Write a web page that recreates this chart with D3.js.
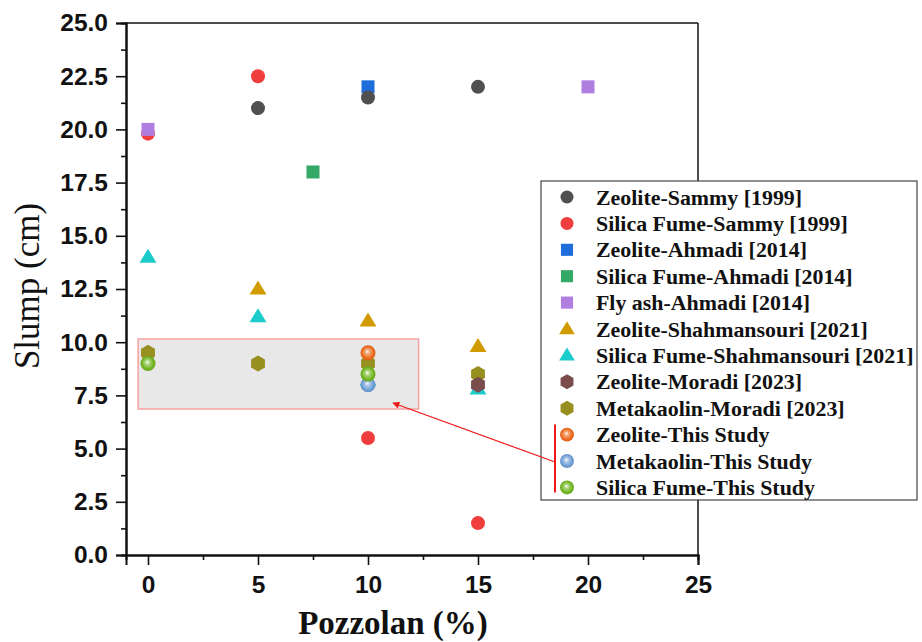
<!DOCTYPE html>
<html>
<head>
<meta charset="utf-8">
<script src="https://cdn.jsdelivr.net/npm/d3@7"></script>
<style>
  html, body { margin: 0; padding: 0; background: #fff; }
  svg { display: block; }
</style>
</head>
<body>
<svg id="chart" width="922" height="642"></svg>
<script>
// ---------- data ----------
const seriesNames = [
  "Zeolite-Sammy [1999]",
  "Silica Fume-Sammy [1999]",
  "Zeolite-Ahmadi [2014]",
  "Silica Fume-Ahmadi [2014]",
  "Fly ash-Ahmadi [2014]",
  "Zeolite-Shahmansouri [2021]",
  "Silica Fume-Shahmansouri [2021]",
  "Zeolite-Moradi [2023]",
  "Metakaolin-Moradi [2023]",
  "Zeolite-This Study",
  "Metakaolin-This Study",
  "Silica Fume-This Study"
];
const seriesShapes = ["circle","circle","square","square","square","triangle","triangle","hexagon","hexagon","sphere","sphere","sphere"];
const seriesColors = ["#505050","#f03e3e","#1d6ddb","#34a866","#b07ee0","#d19b00","#1ccbcb","#7b4c4c","#978f1f","#ee6a1c","#6f9fd6","#72b621"];

const zeoliteSammyX = [5, 10, 15];
const zeoliteSammyY = [21, 21.5, 22];
const silicaSammyX = [0, 5, 10, 15];
const silicaSammyY = [19.8, 22.5, 5.5, 1.5];
const zeoliteAhmadiX = [10];
const zeoliteAhmadiY = [22];
const silicaAhmadiX = [7.5];
const silicaAhmadiY = [18];
const flyashAhmadiX = [0, 20];
const flyashAhmadiY = [20, 22];
const zeoliteShahX = [5, 10, 15];
const zeoliteShahY = [12.5, 11, 9.8];
const silicaShahX = [0, 5, 10, 15];
const silicaShahY = [14, 11.2, 8.2, 7.8];
const zeoliteMoradiX = [15];
const zeoliteMoradiY = [8];
const metakaolinMoradiX = [0, 5, 10, 15];
const metakaolinMoradiY = [9.5, 9, 9, 8.5];
const zeoliteStudyX = [10];
const zeoliteStudyY = [9.5];
const metakaolinStudyX = [10];
const metakaolinStudyY = [8];
const silicaStudyX = [0, 10];
const silicaStudyY = [9, 8.5];

const seriesX = [zeoliteSammyX, silicaSammyX, zeoliteAhmadiX, silicaAhmadiX, flyashAhmadiX, zeoliteShahX, silicaShahX, zeoliteMoradiX, metakaolinMoradiX, zeoliteStudyX, metakaolinStudyX, silicaStudyX];
const seriesY = [zeoliteSammyY, silicaSammyY, zeoliteAhmadiY, silicaAhmadiY, flyashAhmadiY, zeoliteShahY, silicaShahY, zeoliteMoradiY, metakaolinMoradiY, zeoliteStudyY, metakaolinStudyY, silicaStudyY];
// drawing order (later on top)
const drawOrder = [2, 0, 1, 3, 4, 5, 6, 8, 7, 9, 10, 11];

const xMajorTicks = [0, 5, 10, 15, 20, 25];
const xMinorTicks = [2.5, 7.5, 12.5, 17.5, 22.5];
const yMajorTicks = [0, 2.5, 5, 7.5, 10, 12.5, 15, 17.5, 20, 22.5, 25];
const yMinorTicks = [1.25, 3.75, 6.25, 8.75, 11.25, 13.75, 16.25, 18.75, 21.25, 23.75];

// highlighted region (data units)
const regionX = [-0.45, 12.3];
const regionY = [6.86, 10.15];

// ---------- layout ----------
const svg = d3.select("#chart");
const x = d3.scaleLinear().domain([-1, 25]).range([126, 698]);
const y = d3.scaleLinear().domain([0, 25]).range([555, 23]);

const defs = svg.append("defs");
seriesColors.forEach((c, i) => {
  if (seriesShapes[i] !== "sphere") return;
  const g = defs.append("radialGradient").attr("id", "sph" + i)
    .attr("cx", "0.5").attr("cy", "0.5").attr("r", "0.55")
    .attr("fx", "0.45").attr("fy", "0.4");
  g.append("stop").attr("offset", "0").attr("stop-color", "#ffffff");
  g.append("stop").attr("offset", "0.25").attr("stop-color", d3.interpolateRgb("#ffffff", c)(0.55));
  g.append("stop").attr("offset", "0.7").attr("stop-color", c);
  g.append("stop").attr("offset", "1").attr("stop-color", d3.color(c).darker(0.4));
});
defs.append("marker").attr("id", "arrowhead")
  .attr("viewBox", "0 0 10 10").attr("refX", 9).attr("refY", 5)
  .attr("markerWidth", 9).attr("markerHeight", 7).attr("markerUnits", "userSpaceOnUse")
  .attr("orient", "auto")
  .append("path").attr("d", "M0,0 L10,5 L0,10 z").attr("fill", "#f01818");

// region rect
svg.append("rect")
  .attr("x", x(regionX[0])).attr("y", y(regionY[1]))
  .attr("width", x(regionX[1]) - x(regionX[0]))
  .attr("height", y(regionY[0]) - y(regionY[1]))
  .attr("fill", "#e8e8e8").attr("stroke", "#f6a2a2").attr("stroke-width", 1.5);

// frame
svg.append("line").attr("x1", x(-1)).attr("x2", x(25)).attr("y1", y(25)).attr("y2", y(25))
  .attr("stroke", "#111").attr("stroke-width", 1.5);
svg.append("line").attr("x1", x(25)).attr("x2", x(25)).attr("y1", y(0)).attr("y2", y(25))
  .attr("stroke", "#111").attr("stroke-width", 1.5);

// axes
const tickFont = "'Liberation Sans', Arial, sans-serif";
function styleAxis(g) {
  g.select(".domain").attr("stroke", "#111").attr("stroke-width", 2);
  g.selectAll(".tick line").attr("stroke", "#111").attr("stroke-width", 1.6);
  g.selectAll(".tick text").attr("font-family", tickFont).attr("font-weight", "bold")
    .attr("font-size", 24.5).attr("fill", "#111");
}
const gxMinor = svg.append("g").attr("transform", `translate(0,${y(0)})`)
  .call(d3.axisBottom(x).tickValues(xMinorTicks).tickSize(5).tickFormat(""));
styleAxis(gxMinor);
const gx = svg.append("g").attr("transform", `translate(0,${y(0)})`)
  .call(d3.axisBottom(x).tickValues(xMajorTicks).tickSize(10).tickPadding(11).tickFormat(d3.format("d")));
styleAxis(gx);
const gyMinor = svg.append("g").attr("transform", `translate(${x(-1)},0)`)
  .call(d3.axisLeft(y).tickValues(yMinorTicks).tickSize(5).tickFormat(""));
styleAxis(gyMinor);
const gy = svg.append("g").attr("transform", `translate(${x(-1)},0)`)
  .call(d3.axisLeft(y).tickValues(yMajorTicks).tickSize(10).tickPadding(8).tickFormat(d3.format(".1f")));
styleAxis(gy);

// axis titles
svg.append("text").attr("x", 393).attr("y", 634).attr("text-anchor", "middle")
  .attr("font-family", "'Liberation Serif', 'Times New Roman', serif").attr("font-weight", "bold")
  .attr("font-size", 33).attr("fill", "#111").text("Pozzolan (%)");
svg.append("text").attr("transform", "translate(39,286) rotate(-90)").attr("text-anchor", "middle")
  .attr("font-family", "'Liberation Serif', 'Times New Roman', serif")
  .attr("font-size", 35).attr("fill", "#111").text("Slump (cm)");

// markers
const hexPath = r => {
  const pts = d3.range(6).map(k => {
    const a = Math.PI / 3 * k - Math.PI / 2;
    return [r * Math.cos(a), r * Math.sin(a)];
  });
  return "M" + pts.map(p => p.join(",")).join("L") + "Z";
};
function drawMarker(g, shape, idx, cx, cy, scale) {
  const c = seriesColors[idx];
  const s = scale || 1;
  if (shape === "circle") {
    g.append("circle").attr("cx", cx).attr("cy", cy).attr("r", 7 * s).attr("fill", c);
  } else if (shape === "square") {
    const h = 6.5 * s;
    g.append("rect").attr("x", cx - h).attr("y", cy - h).attr("width", 2 * h).attr("height", 2 * h).attr("fill", c);
  } else if (shape === "triangle") {
    const w = 8.5 * s, h = 14 * s;
    g.append("path").attr("d", `M${cx},${cy - h * 0.6}L${cx + w},${cy + h * 0.4}L${cx - w},${cy + h * 0.4}Z`).attr("fill", c);
  } else if (shape === "hexagon") {
    g.append("path").attr("transform", `translate(${cx},${cy})`).attr("d", hexPath(8 * s)).attr("fill", c);
  } else if (shape === "sphere") {
    g.append("circle").attr("cx", cx).attr("cy", cy).attr("r", 7.5 * s).attr("fill", `url(#sph${idx})`);
  }
}

const marks = svg.append("g");
drawOrder.forEach(i => {
  const g = marks.append("g").attr("class", "series");
  seriesX[i].forEach((xv, j) => drawMarker(g, seriesShapes[i], i, x(xv), y(seriesY[i][j])));
});

// legend
const legend = svg.append("g");
legend.append("rect").attr("x", 541).attr("y", 181).attr("width", 376).attr("height", 319)
  .attr("fill", "#fff").attr("stroke", "#444").attr("stroke-width", 1.2);
const rowY = i => 197 + i * 26.4;
seriesNames.forEach((name, i) => {
  drawMarker(legend, seriesShapes[i], i, 567, rowY(i), 0.93);
  legend.append("text").attr("x", 596).attr("y", rowY(i) + 7.5)
    .attr("font-family", "'Liberation Serif', 'Times New Roman', serif").attr("font-weight", "bold")
    .attr("font-size", 21.9).attr("fill", "#111").text(name);
});

// bracket and arrow
svg.append("line").attr("x1", 555).attr("x2", 555).attr("y1", rowY(9) - 10).attr("y2", rowY(11) + 5)
  .attr("stroke", "#f01818").attr("stroke-width", 2);
svg.append("line").attr("x1", 555).attr("y1", 462).attr("x2", 393).attr("y2", 403)
  .attr("stroke", "#f01818").attr("stroke-width", 1.3).attr("marker-end", "url(#arrowhead)");
</script>
</body>
</html>
